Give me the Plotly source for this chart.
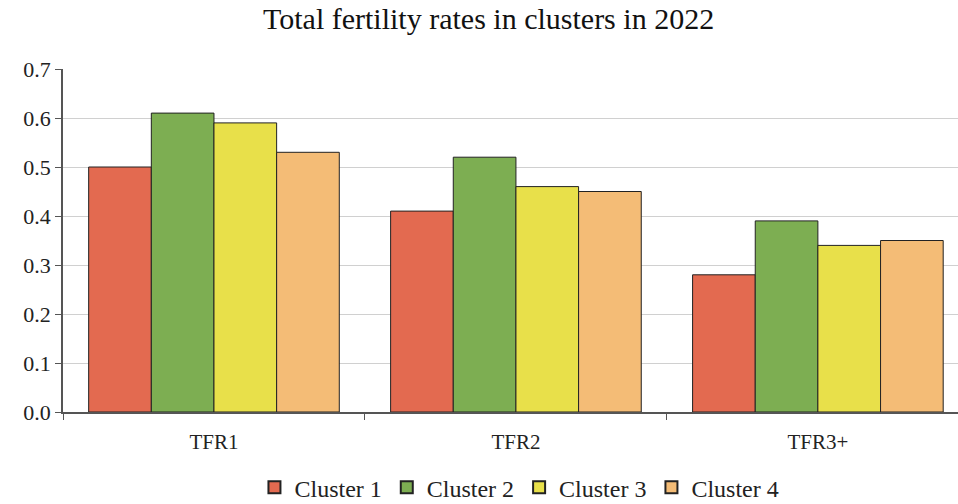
import plotly.graph_objects as go

categories = ["TFR1", "TFR2", "TFR3+"]
series_names = ["Cluster 1", "Cluster 2", "Cluster 3", "Cluster 4"]
cluster1 = [0.50, 0.41, 0.28]
cluster2 = [0.61, 0.52, 0.39]
cluster3 = [0.59, 0.46, 0.34]
cluster4 = [0.53, 0.45, 0.35]
y_ticks = [0.0, 0.1, 0.2, 0.3, 0.4, 0.5, 0.6, 0.7]
y_tick_labels = ["0.0", "0.1", "0.2", "0.3", "0.4", "0.5", "0.6", "0.7"]

colors = ["#E36A50", "#7DAE52", "#E8E04A", "#F4BC76"]
FONT = "Liberation Serif, DejaVu Serif, serif"

fig = go.Figure()
for name, vals, col in zip(series_names, [cluster1, cluster2, cluster3, cluster4], colors):
    fig.add_trace(go.Bar(
        x=categories, y=vals, name=name,
        marker=dict(color=col, line=dict(color="#222222", width=1)),
    ))

fig.update_layout(
    width=958, height=504,
    barmode="group", bargap=0.17, bargroupgap=0,
    plot_bgcolor="white", paper_bgcolor="white",
    margin=dict(l=63, r=0, t=69, b=92, autoexpand=False),
    title=dict(text="Total fertility rates in clusters in 2022", x=0.51, xanchor="center",
               y=0.985, yanchor="top",
               font=dict(family=FONT, size=30, color="#111111")),
    font=dict(family=FONT, size=20, color="#222222"),
    showlegend=True,
    legend=dict(orientation="h", x=0.51, xanchor="center",
                y=-0.155, yanchor="top",
                font=dict(family=FONT, size=24, color="#222222"),
                itemsizing="constant", traceorder="normal", itemwidth=30),
    xaxis=dict(
        range=[-0.5, 2.464], showline=True, linecolor="#555555", linewidth=1.5,
        ticks="outside", tickson="boundaries", ticklen=6, tickcolor="#555555",
        ticklabelstandoff=10,
        tickfont=dict(family=FONT, size=21, color="#222222"),
    ),
    yaxis=dict(
        range=[0, 0.7], tickvals=y_ticks, ticktext=y_tick_labels,
        showline=True, linecolor="#555555", linewidth=1.5,
        ticks="outside", ticklen=6, tickcolor="#555555",
        showgrid=True, gridcolor="#D0D0D0", gridwidth=1,
        zeroline=False,
        tickfont=dict(family=FONT, size=22, color="#222222"),
    ),
)

fig.write_html("out.html", config={"displayModeBar": False},
               post_script="document.body.style.margin='0';")
